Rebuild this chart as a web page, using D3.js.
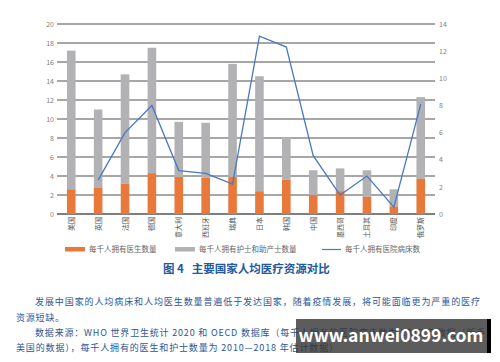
<!DOCTYPE html>
<html>
<head>
<meta charset="utf-8">
<script src="https://cdn.jsdelivr.net/npm/d3@7"></script>
<style>
body { margin: 0; background: #fff; }
text { font-family: "Noto Sans CJK SC", "Noto Sans", sans-serif; }
</style>
</head>
<body>
<div id="chart"></div>
<script>
var countries = ["美国", "英国", "法国", "德国", "意大利", "西班牙", "瑞典", "日本", "韩国", "中国", "墨西哥", "土耳其", "印度", "俄罗斯"]
// 每千人拥有医生数量
var doctors = [2.6, 2.8, 3.2, 4.3, 3.9, 3.8, 3.9, 2.4, 3.6, 2.0, 2.4, 1.8, 0.8, 3.7]
// 每千人拥有护士和助产士数量 (stacked on doctors)
var nurses = [14.6, 8.2, 11.5, 13.2, 5.8, 5.8, 11.9, 12.1, 4.5, 2.6, 2.4, 2.8, 1.8, 8.6]
// 每千人拥有医院病床数 (right axis), no value for 美国
var beds = [null, 2.5, 6.0, 8.0, 3.2, 3.0, 2.2, 13.1, 12.3, 4.3, 1.4, 2.8, 0.5, 8.1]
var leftTicks = [0, 2, 4, 6, 8, 10, 12, 14, 16, 18, 20]
var rightTicks = [0, 2, 4, 6, 8, 10, 12, 14]
var legendNames = ["每千人拥有医生数量", "每千人拥有护士和助产士数量", "每千人拥有医院病床数"]

var W = 500, H = 362
var orange = "#e8793b", grey = "#b2b2b5", blue = "#4a78c2"

var svg = d3.select("#chart").append("svg")
    .attr("width", W)
    .attr("height", H)

var x = d3.scaleBand()
    .domain(countries)
    .range([57, 435])
    .paddingInner(0.68)
    .paddingOuter(0.37)

var yL = d3.scaleLinear().domain([0, 20]).range([214, 24])
var yR = d3.scaleLinear().domain([0, 14]).range([214, 24])

// grid lines
svg.append("g")
    .selectAll("line")
    .data(leftTicks)
    .enter()
    .append("line")
    .attr("x1", 57)
    .attr("x2", 435)
    .attr("y1", function(d){return yL(d)})
    .attr("y2", function(d){return yL(d)})
    .attr("stroke", function(d){return d == 0 ? "#555" : "#8a8a8a"})
    .attr("stroke-width", 1.4)

// left axis
var gL = svg.append("g")
    .attr("transform", "translate(57,0)")
    .call(d3.axisLeft(yL).tickValues(leftTicks).tickSize(0).tickPadding(3))
gL.select(".domain").remove()
gL.selectAll("text")
    .attr("fill", "#808080")
    .attr("font-size", "7px")

// right axis
var gR = svg.append("g")
    .attr("transform", "translate(435,0)")
    .call(d3.axisRight(yR).tickValues(rightTicks).tickSize(0).tickPadding(4))
gR.select(".domain").remove()
gR.selectAll("text")
    .attr("fill", "#808080")
    .attr("font-size", "7px")

// bars
var bars = svg.append("g")
bars.selectAll("rect.nurse")
    .data(countries)
    .enter()
    .append("rect")
    .attr("class", "nurse")
    .attr("x", function(d){return x(d)})
    .attr("width", x.bandwidth())
    .attr("y", function(d,i){return yL(doctors[i] + nurses[i])})
    .attr("height", function(d,i){return yL(doctors[i]) - yL(doctors[i] + nurses[i])})
    .attr("fill", grey)

bars.selectAll("rect.doc")
    .data(countries)
    .enter()
    .append("rect")
    .attr("class", "doc")
    .attr("x", function(d){return x(d)})
    .attr("width", x.bandwidth())
    .attr("y", function(d,i){return yL(doctors[i])})
    .attr("height", function(d,i){return yL(0) - yL(doctors[i])})
    .attr("fill", orange)

// beds line
var line = d3.line()
    .defined(function(d){return d[1] != null})
    .x(function(d){return x(d[0]) + x.bandwidth() / 2})
    .y(function(d){return yR(d[1])})

svg.append("path")
    .datum(countries.map(function(c,i){return [c, beds[i]]}))
    .attr("d", line)
    .attr("fill", "none")
    .attr("stroke", blue)
    .attr("stroke-width", 1.3)

// category labels, rotated
svg.append("g")
    .selectAll("text")
    .data(countries)
    .enter()
    .append("text")
    .attr("transform", function(d){return "translate(" + (x(d) + x.bandwidth() / 2 + 2.5) + ",217) rotate(-90)"})
    .attr("text-anchor", "end")
    .attr("font-size", "7px")
    .attr("fill", "#555")
    .text(function(d){return d})

// legend
var legend = svg.append("g")
var legendX = [65, 175, 322]
legend.selectAll("rect")
    .data([orange, grey])
    .enter()
    .append("rect")
    .attr("x", function(d,i){return legendX[i]})
    .attr("y", 247)
    .attr("width", 20)
    .attr("height", 4.5)
    .attr("fill", function(d){return d})
legend.append("line")
    .attr("x1", legendX[2])
    .attr("x2", legendX[2] + 19)
    .attr("y1", 249.5)
    .attr("y2", 249.5)
    .attr("stroke", blue)
    .attr("stroke-width", 1.2)
legend.selectAll("text")
    .data(legendNames)
    .enter()
    .append("text")
    .attr("x", function(d,i){return legendX[i] + (i == 2 ? 23 : 24)})
    .attr("y", 252.3)
    .attr("font-size", "7.5px")
    .attr("fill", "#666")
    .text(function(d){return d})

// figure title
svg.append("text")
    .attr("x", 163)
    .attr("y", 272.5)
    .attr("font-size", "11.5px")
    .attr("font-weight", "bold")
    .attr("fill", "#235a9c")
    .attr("xml:space", "preserve")
    .text("图 4   主要国家人均医疗资源对比")

// body text
var bodyLines = [
    ["发展中国家的人均病床和人均医生数量普遍低于发达国家，随着疫情发展，将可能面临更为严重的医疗", 35, 305, 445],
    ["资源短缺。", 16, 321, 48],
    ["数据来源：WHO 世界卫生统计 2020 和 OECD 数据库（每千人拥有的医院病床数为 2017 年数据（新手", 35, 336, 450],
    ["美国的数据），每千人拥有的医生和护士数量为 2010—2018 年估计数据）", 16, 351, 322]
]
svg.append("g")
    .selectAll("text")
    .data(bodyLines)
    .enter()
    .append("text")
    .attr("x", function(d){return d[1]})
    .attr("y", function(d){return d[2]})
    .attr("textLength", function(d){return d[3]})
    .attr("lengthAdjust", "spacing")
    .attr("font-size", "9px")
    .attr("fill", "#2b5797")
    .text(function(d){return d[0]})

// watermark over the source note
var wm = svg.append("g")
wm.append("rect")
    .attr("x", 296)
    .attr("y", 319)
    .attr("width", 191)
    .attr("height", 34)
    .attr("fill", "#333")
    .attr("fill-opacity", 0.8)
wm.append("rect")
    .attr("x", 487)
    .attr("y", 319)
    .attr("width", 4)
    .attr("height", 34)
    .attr("fill", "#000")
wm.append("text")
    .attr("x", 391)
    .attr("y", 342)
    .attr("text-anchor", "middle")
    .attr("font-family", "Arial, 'Liberation Sans', sans-serif")
    .attr("font-size", "17.5px")
    .attr("font-weight", "bold")
    .attr("fill", "#fff")
    .text("www.anwei0899.com")
</script>
</body>
</html>
